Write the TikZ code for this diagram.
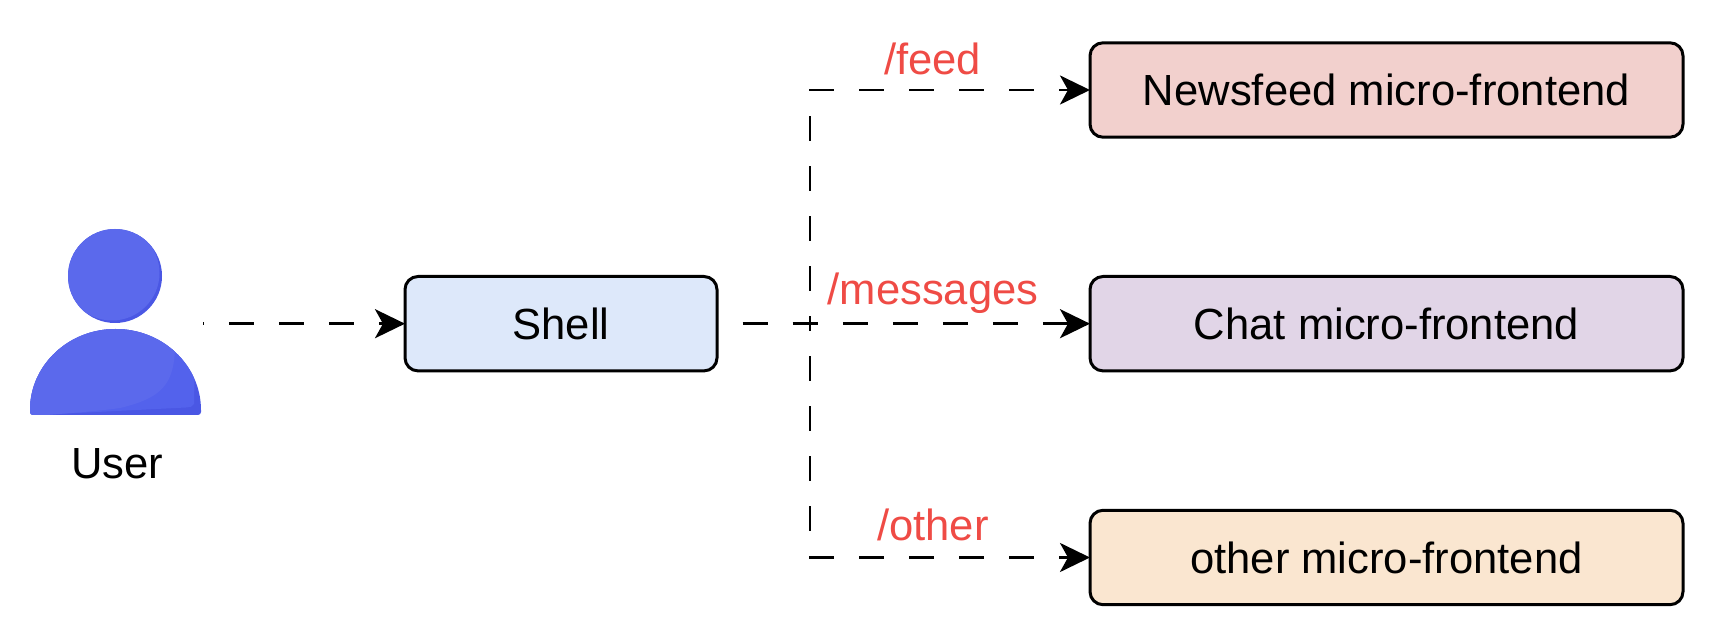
\documentclass[tikz,border=0pt]{standalone}
\usepackage{fontspec}
\setmainfont{Liberation Sans}
\usetikzlibrary{arrows.meta}
\definecolor{userbase}{HTML}{5B69EC}
\definecolor{usermid}{HTML}{5362EC}
\definecolor{userdark}{HTML}{4A57E4}
\definecolor{routered}{HTML}{EF4B45}
\definecolor{shellfill}{HTML}{DDE8FA}
\definecolor{feedfill}{HTML}{F2D0CD}
\definecolor{chatfill}{HTML}{E1D5E7}
\definecolor{otherfill}{HTML}{FAE6D0}
\def\bodypath{(30,410) arc[start angle=180,end angle=360,x radius=85.5,y radius=81]
  -- (201,412) arc[start angle=0,end angle=90,radius=3] -- (33,415) arc[start angle=90,end angle=180,radius=3] -- cycle}
\tikzset{
  box/.style={draw=black,line width=1.5pt,outer sep=0pt,rounded corners=6.5pt,minimum height=47.2pt,inner sep=0pt,font=\fontsize{21.8}{26}\selectfont,text=black},
  routebox/.style={box,minimum width=296.5pt},
  route/.style={font=\fontsize{21.8}{26}\selectfont,text=routered,anchor=base,inner sep=0pt},
  link/.style={draw=black,line width=1.45pt,dash pattern=on 12.5pt off 12.5pt,dash phase=12.1pt,
    -{Stealth[length=15pt,width=14.5pt,inset=4pt]}},
}
\begin{document}
\begin{tikzpicture}[x=0.5pt,y=-0.5pt]
\useasboundingbox (0,0) rectangle (1718,640);
% user icon
\fill[userdark] (115,276) circle[radius=47];
\begin{scope}
  \clip (115,276) circle[radius=47];
  \fill[userbase] (112,273) circle[radius=47.5];
\end{scope}
\fill[userdark] \bodypath;
\begin{scope}
  \clip \bodypath;
  \fill[usermid] (20,300) -- (196,300) -- (194,404) .. controls (193,407) and (190,407) .. (186,407.5) -- (37,415) -- (20,415) -- cycle;
  \fill[userbase] (20,300) -- (172,300) .. controls (180,375) and (175,395) .. (120,408) .. controls (100,411) and (70,413) .. (35,416) -- (20,416) -- cycle;
\end{scope}
\node[minimum width=86.5pt,minimum height=0pt,inner sep=0pt,outer sep=0pt] (user) at (116.5,323.7) {};
\node[font=\fontsize{21.8}{26}\selectfont,anchor=base,inner sep=0pt] (userlabel) at (117.5,478.5) {User};
% boxes
\node[box,fill=shellfill,minimum width=156pt] (shell) at (561,323.7) {Shell};
\node[routebox,fill=feedfill] (feed) at (1386.5,90) {Newsfeed micro-frontend};
\node[routebox,fill=chatfill] (chat) at (1386.5,323.7) {Chat micro-frontend};
\node[routebox,fill=otherfill] (other) at (1386.5,557.5) {other micro-frontend};
% connectors
\coordinate (junction) at (810,323.7);
\draw[link] (user.east) -- (shell.west);
\draw[link] (shell.east) -- (junction) |- (feed.west);
\draw[link] (shell.east) -- (chat.west);
\draw[link] (shell.east) -- (junction) |- (other.west);
% labels
\node[route] (feedlabel) at (932.5,74.5) {/feed};
\node[route] (msglabel) at (933,304.5) {/messages};
\node[route] (otherlabel) at (933,540.5) {/other};
\end{tikzpicture}
\end{document}
